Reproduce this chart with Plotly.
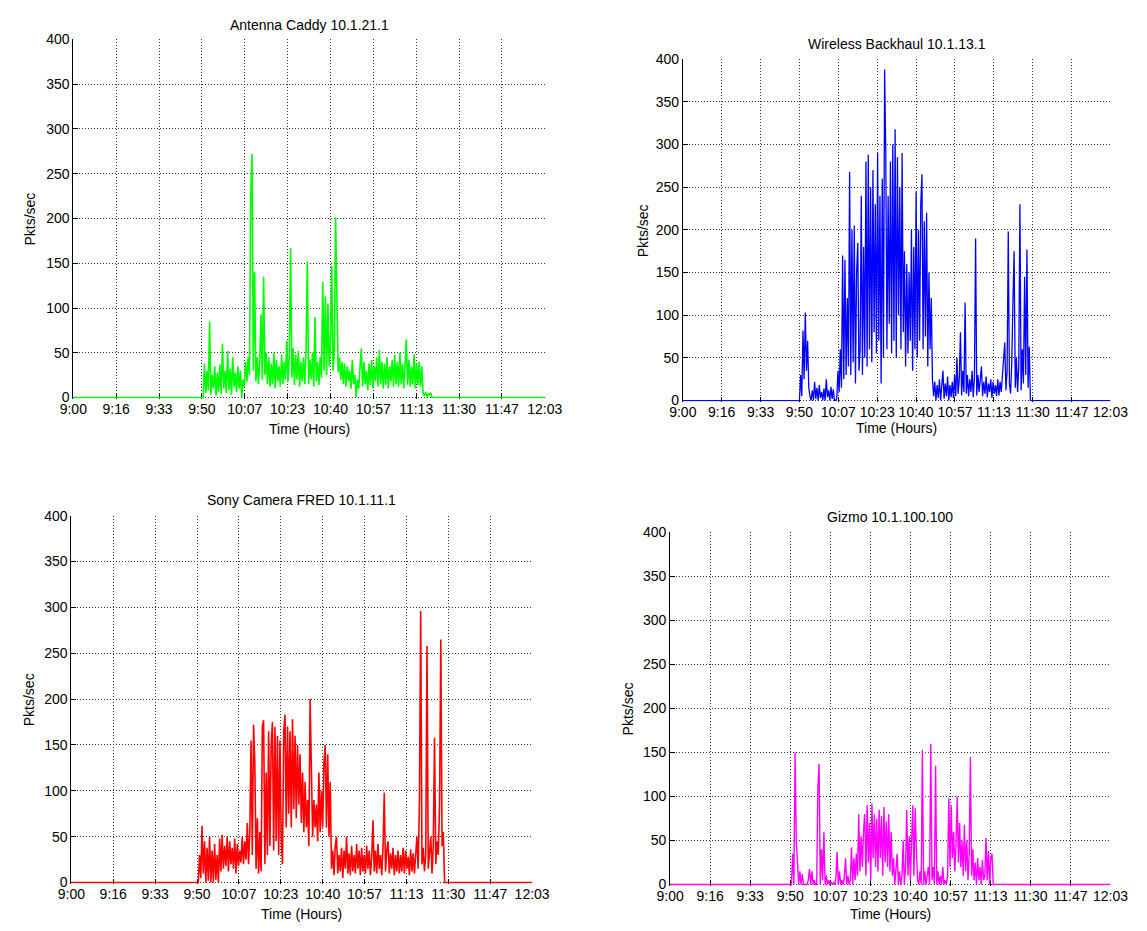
import plotly.graph_objects as go

W, H = 1147, 931

# ---------------- axis ticks ----------------
X_TICK_VALS = [0, 1000, 2000, 3000, 4000, 5000, 6000, 7000, 8000, 9000, 10000, 11000]  # seconds after 9:00
X_TICK_TEXT = ["9:00", "9:16", "9:33", "9:50", "10:07", "10:23", "10:40",
               "10:57", "11:13", "11:30", "11:47", "12:03"]
Y_TICK_VALS = [0, 50, 100, 150, 200, 250, 300, 350, 400]

SAMPLE_STEP = 30  # seconds between samples

# ---------------- Antenna Caddy (green) ----------------
caddy_start = 3060
caddy_values = [
    38, 5, 30, 8, 85, 3, 25, 10, 35, 2,
    28, 6, 37, 4, 60, 10, 30, 5, 52, 8,
    32, 3, 45, 12, 28, 6, 35, 10, 30, 0,
    20, 12, 40, 18, 45, 25, 228, 272, 30, 140,
    18, 45, 15, 40, 93, 20, 135, 25, 50, 15,
    45, 12, 38, 15, 50, 10, 42, 18, 35, 12,
    48, 15, 40, 20, 63, 18, 45, 167, 22, 55,
    14, 48, 20, 52, 12, 40, 18, 45, 15, 50,
    152, 15, 42, 20, 50, 12, 90, 18, 40, 14,
    45, 22, 129, 30, 113, 25, 105, 35, 60, 147,
    30, 50, 201, 130, 28, 45, 20, 40, 15, 38,
    12, 35, 18, 30, 10, 42, 15, 25, 0, 20,
    10, 35, 55, 12, 40, 15, 30, 8, 38, 14,
    42, 10, 35, 18, 45, 12, 53, 15, 40, 10,
    38, 14, 45, 10, 35, 18, 42, 12, 48, 15,
    40, 12, 50, 15, 38, 10, 45, 65, 14, 42,
    12, 35, 15, 48, 10, 38, 14, 40, 12, 35,
    5, 2, 6, 1, 4, 3, 5, 0,
]

# ---------------- Wireless Backhaul (blue) ----------------
backhaul_start = 3030
backhaul_values = [
    30, 5, 82, 25, 103, 35, 70, 15, 5, 0,
    12, 0, 22, 2, 15, 0, 18, 3, 10, 0,
    14, 0, 25, 4, 12, 0, 16, 2, 13, 0,
    0, 3, 35, 10, 60, 15, 170, 25, 165, 30,
    120, 40, 268, 30, 200, 45, 205, 20, 150, 185,
    35, 60, 240, 30, 180, 50, 280, 40, 288, 60,
    250, 45, 270, 80, 230, 55, 290, 70, 240, 20,
    260, 50, 388, 290, 60, 240, 90, 280, 55, 300,
    70, 318, 50, 285, 100, 250, 60, 290, 80, 175,
    40, 160, 55, 150, 70, 200, 35, 180, 60, 245,
    50, 200, 70, 230, 265, 60, 210, 75, 220, 40,
    150, 60, 120, 25, 5, 22, 0, 18, 3, 25,
    0, 15, 35, 2, 20, 5, 28, 0, 18, 4,
    22, 3, 30, 5, 50, 8, 25, 80, 6, 35,
    10, 115, 8, 30, 5, 25, 10, 35, 4, 28,
    190, 6, 30, 10, 25, 40, 5, 22, 8, 28,
    4, 20, 10, 25, 3, 22, 8, 18, 5, 25,
    6, 22, 10, 30, 40, 68, 12, 35, 198, 20,
    8, 45, 115, 175, 15, 50, 10, 40, 230, 12,
    60, 20, 145, 30, 177, 15, 63, 0,
]

# ---------------- Sony Camera FRED (red) ----------------
camera_start = 3060
camera_values = [
    30, 5, 62, 10, 45, 0, 38, 2, 50, 0,
    35, 0, 42, 3, 30, 0, 48, 12, 52, 15,
    40, 18, 50, 12, 45, 20, 38, 15, 48, 10,
    42, 18, 35, 22, 50, 20, 45, 25, 65, 20,
    55, 155, 30, 172, 130, 15, 70, 10, 55, 12,
    170, 177, 20, 120, 30, 165, 40, 150, 175, 35,
    170, 45, 160, 30, 155, 50, 20, 165, 183, 60,
    170, 75, 165, 60, 178, 80, 160, 70, 150, 85,
    140, 65, 120, 55, 110, 60, 90, 40, 200, 100,
    50, 90, 60, 85, 45, 120, 55, 100, 60, 130,
    150, 60, 140, 50, 110, 15, 35, 8, 40, 50,
    10, 30, 12, 38, 5, 35, 15, 50, 10, 32,
    8, 40, 12, 30, 10, 42, 15, 35, 8, 38,
    12, 30, 10, 40, 15, 35, 8, 28, 68, 12,
    35, 10, 42, 15, 30, 8, 38, 98, 12, 35,
    45, 10, 32, 15, 38, 8, 30, 12, 35, 10,
    30, 12, 38, 10, 35, 15, 28, 8, 36, 12,
    32, 10, 35, 50, 15, 90, 296, 20, 38, 12,
    30, 258, 15, 35, 50, 10, 40, 158, 20, 45,
    30, 85, 265, 40, 55, 0,
]

# ---------------- Gizmo (magenta) ----------------
gizmo_start = 3060
gizmo_values = [
    35, 0, 150, 50, 25, 0, 15, 0, 12, 0,
    0, 0, 0, 5, 18, 0, 15, 0, 5, 0,
    0, 110, 137, 0, 40, 5, 60, 0, 10, 0,
    5, 0, 3, 0, 2, 0, 8, 37, 0, 15,
    0, 5, 0, 8, 30, 0, 10, 0, 5, 42,
    0, 30, 5, 35, 10, 80, 15, 55, 20, 60,
    80, 10, 90, 25, 70, 5, 92, 30, 80, 20,
    75, 15, 85, 30, 78, 10, 88, 25, 72, 20,
    80, 15, 60, 10, 30, 0, 15, 35, 0, 15,
    0, 10, 50, 0, 20, 85, 10, 55, 5, 40,
    90, 10, 87, 40, 5, 0, 15, 0, 153, 0,
    15, 0, 10, 20, 0, 160, 5, 20, 0, 135,
    0, 15, 0, 10, 0, 20, 0, 5, 0, 10,
    98, 20, 90, 30, 60, 15, 45, 100, 25, 70,
    20, 50, 10, 68, 15, 50, 5, 35, 145, 10,
    40, 5, 25, 0, 30, 5, 20, 0, 28, 5,
    10, 53, 5, 38, 0, 30, 35, 0,
]

panels = [
    # title, start, values, color, line width, plot box px (left, top, right, bottom), title y, xlabel y, ylabel x
    ("Antenna Caddy 10.1.21.1", caddy_start, caddy_values, "#00FF00", 1.6, (61, 32, 546, 397), 17, 428, 16),
    ("Wireless Backhaul 10.1.13.1", backhaul_start, backhaul_values, "#0000FF", 1.3, (688, 52, 1128, 400), 37, 427, 647),
    ("Sony Camera FRED 10.1.11.1", camera_start, camera_values, "#FF0000", 1.6, (59, 516, 533, 890), 500, 921, 15),
    ("Gizmo 10.1.100.100", gizmo_start, gizmo_values, "#FF00FF", 1.4, (675, 533, 1128, 892), 517, 921, 632),
]

FONT = "Liberation Sans, Arial, sans-serif"
FS = 14

def px(x):
    return x / W

def py(y):
    return 1 - y / H

fig = go.Figure()
annotations = []
layout_axes = {}

for i, (title, start, vals, color, lw, box, ty, xly, ylx) in enumerate(panels, start=1):
    n = len(vals)
    xs = [0, start - SAMPLE_STEP] + [start + k * SAMPLE_STEP for k in range(n)] + [start + n * SAMPLE_STEP, 11000]
    ys = [0, 0] + list(vals) + [0, 0]
    xa = "x" if i == 1 else f"x{i}"
    ya = "y" if i == 1 else f"y{i}"
    fig.add_trace(go.Scatter(x=xs, y=ys, mode="lines", line=dict(color=color, width=lw),
                             xaxis=xa, yaxis=ya, showlegend=False, hoverinfo="skip"))
    l, t, r, b = box
    xkey = "xaxis" if i == 1 else f"xaxis{i}"
    ykey = "yaxis" if i == 1 else f"yaxis{i}"
    layout_axes[xkey] = dict(
        domain=[px(l), px(r)], anchor=ya, range=[0, 11000],
        tickmode="array", tickvals=X_TICK_VALS, ticktext=X_TICK_TEXT,
        ticks="inside", ticklen=5, tickcolor="black", tickwidth=1,
        showline=False, showgrid=True, gridcolor="#333333", griddash="1px,2px", gridwidth=1,
        zeroline=False, layer="below traces",
        tickfont=dict(family=FONT, size=FS, color="black"), fixedrange=True,
    )
    layout_axes[ykey] = dict(
        domain=[py(b), py(t)], anchor=xa, range=[-1.2, 400],
        tickmode="array", tickvals=Y_TICK_VALS,
        ticks="inside", ticklen=5, tickcolor="black", tickwidth=1,
        showline=True, linecolor="black", linewidth=1,
        showgrid=True, gridcolor="#333333", griddash="1px,2px", gridwidth=1,
        zeroline=False, layer="below traces",
        tickfont=dict(family=FONT, size=FS, color="black"), fixedrange=True,
    )
    cx = (l + r) / 2
    annotations.append(dict(text=title, x=px(cx), y=py(ty), xref="paper", yref="paper",
                            xanchor="center", yanchor="middle", showarrow=False,
                            font=dict(family=FONT, size=FS, color="black")))
    annotations.append(dict(text="Time (Hours)", x=px(cx), y=py(xly), xref="paper", yref="paper",
                            xanchor="center", yanchor="middle", showarrow=False,
                            font=dict(family=FONT, size=FS, color="black")))
    annotations.append(dict(text="Pkts/sec", x=px(ylx), y=py((t + b) / 2), xref="paper", yref="paper",
                            xanchor="center", yanchor="middle", showarrow=False, textangle=-90,
                            font=dict(family=FONT, size=FS, color="black")))

fig.update_layout(
    width=W, height=H,
    margin=dict(l=0, r=0, t=0, b=0),
    paper_bgcolor="white", plot_bgcolor="white",
    annotations=annotations,
    **layout_axes,
)

fig.write_html("out.html", config={"displayModeBar": False},
               post_script="document.body.style.margin='0';document.body.style.overflow='hidden';")
